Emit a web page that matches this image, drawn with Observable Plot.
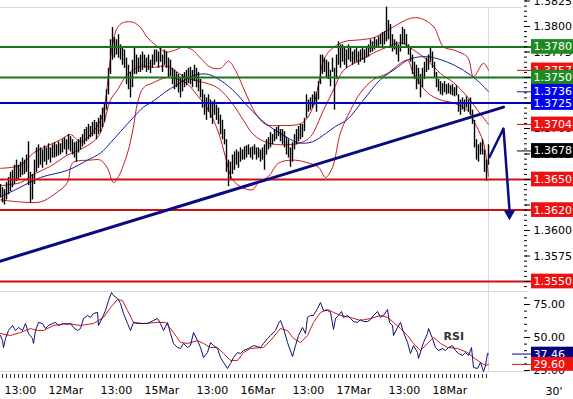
<!DOCTYPE html>
<html><head><meta charset="utf-8">
<script src="https://cdn.jsdelivr.net/npm/d3@7"></script>
<script src="https://cdn.jsdelivr.net/npm/@observablehq/plot@0.6"></script>
<style>
body{margin:0;background:#fff;}
#chart{position:relative;width:573px;height:399px;overflow:hidden;background:#fff;font-family:"DejaVu Sans",sans-serif;}
#chart svg{display:block;position:absolute;left:0;}
</style></head><body><div id="chart"></div>
<script>
// ---- 30-minute bars (bar index = half-hour slot, 11Mar 12:00 = 0) ----
const barHigh = [
1.3645,1.3642,1.3640,1.3647,1.3652,1.3657,1.3659,1.3664,1.3669,1.3664,
1.3667,1.3671,1.3669,1.3674,1.3687,1.3657,1.3655,1.3669,1.3681,1.3684,
1.3681,1.3679,1.3683,1.3681,1.3685,1.3681,1.3684,1.3686,1.3684,1.3687,
1.3685,1.3689,1.3691,1.3689,1.3694,1.3692,1.3689,1.3686,1.3687,1.3689,
1.3691,1.3694,1.3699,1.3701,1.3704,1.3702,1.3706,1.3708,1.3706,1.3710,
1.3713,1.3720,1.3725,1.3738,1.3759,1.3787,1.3799,1.3789,1.3787,1.3792,
1.3782,1.3779,1.3777,1.3769,1.3762,1.3755,1.3767,1.3779,1.3772,1.3769,
1.3772,1.3775,1.3772,1.3769,1.3772,1.3767,1.3772,1.3777,1.3777,1.3775,
1.3779,1.3772,1.3777,1.3775,1.3769,1.3767,1.3759,1.3757,1.3755,1.3753,
1.3750,1.3753,1.3755,1.3757,1.3759,1.3760,1.3757,1.3762,1.3759,1.3755,
1.3748,1.3738,1.3733,1.3730,1.3733,1.3728,1.3726,1.3728,1.3723,1.3720,
1.3713,1.3708,1.3699,1.3689,1.3669,1.3667,1.3674,1.3677,1.3679,1.3677,
1.3681,1.3679,1.3682,1.3683,1.3684,1.3681,1.3682,1.3684,1.3681,1.3681,
1.3679,1.3681,1.3684,1.3689,1.3691,1.3696,1.3694,1.3699,1.3701,1.3702,
1.3699,1.3699,1.3697,1.3691,1.3689,1.3681,1.3686,1.3694,1.3699,1.3702,
1.3704,1.3704,1.3710,1.3733,1.3728,1.3730,1.3733,1.3736,1.3735,1.3746,
1.3772,1.3772,1.3769,1.3767,1.3765,1.3757,1.3769,1.3759,1.3772,1.3785,
1.3782,1.3782,1.3779,1.3777,1.3782,1.3779,1.3775,1.3777,1.3779,1.3775,
1.3777,1.3779,1.3777,1.3780,1.3782,1.3787,1.3785,1.3789,1.3787,1.3790,
1.3792,1.3794,1.3795,1.3819,1.3806,1.3802,1.3792,1.3787,1.3785,1.3782,
1.3792,1.3799,1.3797,1.3792,1.3782,1.3779,1.3772,1.3765,1.3762,1.3759,
1.3753,1.3759,1.3765,1.3769,1.3772,1.3780,1.3775,1.3765,1.3755,1.3748,
1.3746,1.3744,1.3746,1.3743,1.3744,1.3742,1.3743,1.3740,1.3742,1.3733,
1.3728,1.3730,1.3728,1.3731,1.3728,1.3730,1.3718,1.3708,1.3689,1.3684,
1.3686,1.3689,1.3679,1.3669,1.3684];
const barLow = [
1.3632,1.3627,1.3625,1.3630,1.3635,1.3638,1.3642,1.3645,1.3648,1.3650,
1.3652,1.3654,1.3655,1.3657,1.3644,1.3627,1.3630,1.3645,1.3657,1.3661,
1.3664,1.3661,1.3667,1.3664,1.3669,1.3666,1.3671,1.3671,1.3672,1.3673,
1.3674,1.3676,1.3679,1.3674,1.3679,1.3677,1.3674,1.3671,1.3667,1.3676,
1.3679,1.3682,1.3684,1.3687,1.3689,1.3691,1.3692,1.3694,1.3689,1.3694,
1.3696,1.3701,1.3706,1.3718,1.3733,1.3753,1.3767,1.3769,1.3772,1.3769,
1.3767,1.3762,1.3759,1.3743,1.3738,1.3730,1.3740,1.3753,1.3753,1.3755,
1.3755,1.3757,1.3759,1.3755,1.3757,1.3754,1.3759,1.3762,1.3765,1.3759,
1.3765,1.3755,1.3762,1.3759,1.3750,1.3751,1.3743,1.3738,1.3740,1.3735,
1.3730,1.3736,1.3740,1.3742,1.3744,1.3743,1.3740,1.3746,1.3740,1.3736,
1.3730,1.3720,1.3713,1.3708,1.3716,1.3710,1.3704,1.3713,1.3708,1.3704,
1.3694,1.3689,1.3684,1.3657,1.3643,1.3650,1.3655,1.3659,1.3664,1.3661,
1.3667,1.3669,1.3669,1.3671,1.3674,1.3671,1.3669,1.3674,1.3669,1.3671,
1.3667,1.3669,1.3659,1.3674,1.3679,1.3681,1.3684,1.3687,1.3689,1.3692,
1.3687,1.3684,1.3681,1.3674,1.3671,1.3662,1.3667,1.3679,1.3684,1.3687,
1.3689,1.3691,1.3697,1.3710,1.3716,1.3718,1.3720,1.3723,1.3716,1.3728,
1.3743,1.3753,1.3755,1.3750,1.3748,1.3741,1.3755,1.3718,1.3748,1.3762,
1.3759,1.3765,1.3762,1.3759,1.3767,1.3765,1.3762,1.3764,1.3765,1.3762,
1.3765,1.3767,1.3764,1.3769,1.3770,1.3774,1.3775,1.3777,1.3779,1.3779,
1.3782,1.3779,1.3782,1.3785,1.3787,1.3779,1.3775,1.3777,1.3772,1.3765,
1.3775,1.3782,1.3782,1.3779,1.3772,1.3765,1.3753,1.3748,1.3738,1.3743,
1.3730,1.3740,1.3748,1.3755,1.3757,1.3765,1.3759,1.3750,1.3740,1.3736,
1.3733,1.3732,1.3735,1.3733,1.3734,1.3733,1.3732,1.3731,1.3732,1.3716,
1.3713,1.3718,1.3716,1.3720,1.3716,1.3713,1.3704,1.3681,1.3669,1.3667,
1.3674,1.3674,1.3657,1.3648,1.3664];

// ---- Bollinger bands (read points: bar index, price) ----
const bbUpX = [0,10,16.5,22.5,30,35,40,45,50,52.5,54,56,58.5,61.5,66.5,70,73.5,77.5,82.5,87.5,91.5,96,100,105,110,114,117.5,122.5,127.5,132.5,140,149,152.5,156,159,161.5,165,171.5,180,186.5,191.5,198.5,205,210,216.5,221.5,226.5,233.5,236.5,241.5,244];
const bbUpV = [1.3661,1.3664,1.3676,1.3682,1.3689,1.3694,1.3687,1.3694,1.3708,1.3728,1.3753,1.3782,1.3799,1.3804,1.3804,1.3799,1.3789,1.3782,1.3775,1.3777,1.3780,1.3777,1.3769,1.3760,1.3759,1.3766,1.3757,1.3735,1.3715,1.3704,1.3703,1.3704,1.3708,1.3720,1.3743,1.3767,1.3777,1.3785,1.3787,1.3789,1.3794,1.3802,1.3808,1.3808,1.3800,1.3780,1.3777,1.3770,1.3751,1.3764,1.3757];
const bbMidX = [0,10,16.5,25,33.5,41.5,48.5,51.5,55,58.5,63.5,70,76.5,83.5,92.5,100,108.5,116.5,121.5,126.5,133.5,142.5,150,155,161.5,166.5,171.5,180,186.5,193.5,200,206.5,213.5,220,226.5,233.5,238.5,244];
const bbMidV = [1.3644,1.3647,1.3655,1.3663,1.3674,1.3681,1.3691,1.3704,1.3728,1.3738,1.3753,1.3761,1.3760,1.3761,1.3750,1.3746,1.3740,1.3723,1.3708,1.3694,1.3686,1.3684,1.3686,1.3692,1.3718,1.3738,1.3757,1.3767,1.3774,1.3780,1.3784,1.3777,1.3767,1.3754,1.3745,1.3731,1.3718,1.3704];
const bbLowX = [0,10,20,26.5,33.5,35,36.5,45,50,53.5,56.5,59,63.5,66.5,68.5,71.5,76.5,83.5,92.5,99,104,109,112.5,116,121,126,129,134,139,146,152.5,159,162.5,166,170,175,180,186.5,193.5,200,203.5,206.5,213.5,220,226.5,233.5,236.5,241.5,244];
const bbLowV = [1.3630,1.3628,1.3628,1.3635,1.3647,1.3662,1.3667,1.3669,1.3669,1.3661,1.3647,1.3653,1.3676,1.3702,1.3725,1.3740,1.3745,1.3750,1.3745,1.3731,1.3718,1.3696,1.3672,1.3650,1.3642,1.3640,1.3647,1.3653,1.3666,1.3669,1.3667,1.3662,1.3652,1.3662,1.3696,1.3718,1.3735,1.3748,1.3754,1.3764,1.3767,1.3754,1.3735,1.3728,1.3725,1.3718,1.3708,1.3686,1.3653];
// ---- blue moving average ----
const maX = [0,7.5,20,33.5,43.5,50,55,60,66.5,71.5,76.5,82.5,87.5,93.5,98.5,104,108.5,116,124,132.5,141,149,156,162.5,167.5,173.5,181.5,190,198.5,203.5,208.5,215,223.5,231.5,238.5,244];
const maV = [1.3633,1.3640,1.3652,1.3659,1.3669,1.3676,1.3686,1.3697,1.3711,1.3721,1.3727,1.3736,1.3742,1.3749,1.3753,1.3753,1.3749,1.3738,1.3721,1.3705,1.3694,1.3686,1.3687,1.3695,1.3702,1.3709,1.3728,1.3748,1.3760,1.3767,1.3770,1.3770,1.3765,1.3757,1.3747,1.3736];

// ---- trend line and projection arrow ----
const trendX = [0, 251.5];
const trendV = [1.3570, 1.3721];
const arrowX = [244.5, 251.5, 254.5];
const arrowV = [1.3672, 1.3700, 1.3620];
const arrowHeadX = [254.5];
const arrowHeadV = [1.36165];

// ---- horizontal levels and right-hand value boxes ----
const levelVals = [1.3780, 1.3750, 1.3725, 1.3650, 1.3620, 1.3550];
const levelColors = ["#16761a","#16761a","#0000c8","#cc1111","#cc1111","#cc1111"];
const boxVals = [1.3780, 1.3757, 1.3750, 1.3736, 1.3725, 1.3704, 1.3678, 1.3650, 1.3620, 1.3550];
const boxColors = ["#1f8a22","#ee1111","#1f8a22","#0000f0","#0000f0","#ee1111","#000000","#ee1111","#ee1111","#ee1111"];
const markerVals = [1.3757, 1.3736, 1.3704, 1.3678];
const markerColors = ["#cc1111","#1a1a99","#cc1111","#000000"];
// axis labels that stay (at least partly) visible next to the boxes
const priceLabelTicks = [1.3575, 1.3600, 1.3675, 1.3700, 1.3775, 1.3800, 1.3825];

// ---- RSI panel ----
const rsiX = [0,1,1.5,2.5,4,6,7.5,9,11,12.5,
14,16,16.5,17.5,19,21,22.5,24,26,27.5,
29,31.5,33.5,35,36.5,38.5,40,41.5,43.5,45,
46.5,48.5,49,51,52.5,54,55.5,56.5,58.5,60,
61.5,63.5,65,66.5,68.5,70,73.5,76.5,78.5,80,
81.5,83.5,85,86.5,88.5,90,91.5,93.5,95,96.5,
98.5,100,101.5,103.5,105,106.5,108.5,110,111.5,113.5,
115,116.5,118.5,120,121.5,124,126.5,130,131.5,133.5,
135,137.5,139,140,141.5,143.5,146,147.5,149,151,
152.5,153.5,155,156.5,158.5,160,161.5,163.5,165,166.5,
167.5,169,170.5,171.5,173.5,175,176.5,178.5,180,181.5,
183.5,185,186.5,188.5,190,191.5,193.5,194.5,196,196.5,
198.5,200,201.5,203.5,205,206.5,208.5,209,211.5,213.5,
214,216,217.5,219,221,222.5,224,226,227.5,229,
231,232.5,234,235.5,236.5,238.5,240,241.5,242.5,243.5,
244];
const rsiV = [51.5,47.7,42.4,49.2,55.3,59.1,55.3,57.6,55.3,60.6,
53.0,49.2,45.5,55.3,61.4,60.6,56.8,59.1,60.6,61.4,
59.1,60.6,59.9,60.6,57.6,55.3,56.8,64.4,66.7,65.2,
68.2,69.0,59.1,65.2,70.5,78.0,84.1,81.8,79.6,75.8,
68.2,60.6,55.3,61.4,60.6,60.6,60.6,62.9,64.4,60.6,
55.3,61.4,53.0,45.5,42.4,41.7,45.5,42.4,43.9,53.8,
47.7,42.4,34.8,38.6,46.2,43.9,41.7,34.8,31.1,26.5,
30.3,34.8,38.6,37.9,40.1,41.7,43.9,42.4,45.5,49.2,
51.5,55.3,60.6,62.9,56.8,46.2,35.6,43.9,51.5,57.6,
53.0,65.2,66.7,66.7,72.0,76.5,70.5,70.5,69.0,56.1,
64.4,66.7,69.7,65.2,66.7,64.4,62.1,61.4,63.6,62.1,
62.1,63.6,66.7,69.7,65.2,66.7,71.2,61.4,59.1,51.5,
57.6,61.4,53.8,46.2,37.9,43.9,38.6,34.1,46.2,53.0,
56.8,49.2,42.4,40.1,41.7,40.1,42.4,43.9,40.1,37.9,
36.4,38.6,36.4,42.4,27.3,26.5,31.1,24.2,28.8,37.9,
37.46];
const rsiMaX = [0,5,10,15,18.5,21.5,26.5,33.5,40,46.5,
51.5,55,58.5,61,63.5,66.5,71.5,78.5,82.5,86.5,
90,93.5,98.5,101.5,105,108.5,111.5,115,118.5,121.5,
125,131.5,135,140,143.5,146.5,150,153.5,156.5,160,
163.5,166.5,170,175,180,185,190,193.5,196.5,200,
203.5,206.5,210,213.5,216.5,220,223.5,228.5,233.5,236.5,
240,242.5,244];
const rsiMaV = [53.0,51.5,53.8,56.8,55.3,55.3,59.1,60.6,59.1,60.6,
65.2,72.7,78.8,78.0,70.5,61.4,60.6,61.4,61.4,53.8,
46.2,45.5,47.7,45.5,42.4,42.4,37.9,32.6,32.6,38.6,
41.7,42.4,47.7,56.8,55.3,49.2,46.2,51.5,61.4,69.0,
71.2,69.0,66.7,65.2,62.9,64.4,66.7,65.2,61.4,56.8,
51.5,45.5,40.1,45.5,50.0,45.5,42.4,41.7,38.6,34.8,
31.1,28.8,29.6];
const rsiBoxVals = [37.46, 29.60];
const rsiBoxColors = ["#000080", "#ee1111"];

// ---- time axis ----
const timeTickIdx = [2, 24, 50, 72, 98, 120, 146, 168, 194, 216];
const timeTickLabels = ["13:00","12Mar","13:00","15Mar","13:00","16Mar","13:00","17Mar","13:00","18Mar"];
const periodLabel = "30'";

// ---------- build ----------
const pts = (xs, vs) => xs.map((x, k) => ({x, v: vs[k]}));
const bars = barHigh.map((h, i) => ({i, high: h, low: barLow[i]}));
const levels = levelVals.map((v, k) => ({v, c: levelColors[k]}));
const markers = markerVals.map((v, k) => ({v, c: markerColors[k]}));
const priceTicks = d3.range(13550, 13826, 25).map(v => v / 10000);
const priceMinor = d3.range(13545, 13826, 5).map(v => v / 10000);
const rsiTicks = [25, 50, 75];
const rsiMinor = d3.range(25, 85, 5);
const hourTicks = d3.range(1, 245, 2);
const labelOf = new Map(timeTickIdx.map((d, k) => [d, timeTickLabels[k]]));
const FONT = "'DejaVu Sans', sans-serif";
const style = {fontFamily: FONT, fontSize: "11px", background: "white", overflow: "visible"};

function boxMarks(vals, colors, half, fmt) {
  return vals.flatMap((v, k) => {
    const d = [{v, c: colors[k]}];
    return [
      Plot.rect(d, {x1: 265.5, x2: 287, y1: e => e.v - half, y2: e => e.v + half, fill: "c"}),
      Plot.text(d, {x: 266.5, y: "v", text: e => fmt(e.v), fill: "white", textAnchor: "start", fontSize: 11})
    ];
  });
}

const yTop = 1.38255, yBot = 1.35402;
const main = Plot.plot({
  width: 573, height: 291,
  marginLeft: 0, marginRight: 51, marginTop: 0, marginBottom: 0,
  x: {domain: [0, 261], axis: null, label: null},
  y: {domain: [yBot, yTop], axis: null, label: null},
  color: {type: "identity"},
  style,
  marks: [
    Plot.ruleY([1.38186], {x1: 0, x2: 261, stroke: "#dadada"}),
    Plot.ruleX([244], {y1: yBot, y2: 1.38186, stroke: "#d6d9e6"}),
    Plot.line(pts(bbUpX, bbUpV), {x: "x", y: "v", stroke: "#cc1a1a", strokeWidth: 1, curve: "catmull-rom"}),
    Plot.line(pts(bbMidX, bbMidV), {x: "x", y: "v", stroke: "#cc1a1a", strokeWidth: 1, curve: "catmull-rom"}),
    Plot.line(pts(bbLowX, bbLowV), {x: "x", y: "v", stroke: "#cc1a1a", strokeWidth: 1, curve: "catmull-rom"}),
    Plot.line(pts(maX, maV), {x: "x", y: "v", stroke: "#1a1aa0", strokeWidth: 1, curve: "catmull-rom"}),
    Plot.ruleX(bars, {x: "i", y1: "low", y2: "high", stroke: "#000", strokeWidth: 1.4}),
    Plot.ruleY(levels, {y: "v", x1: 0, x2: 265.5, stroke: "c", strokeWidth: 2}),
    Plot.line(pts(trendX, trendV), {x: "x", y: "v", stroke: "#0a0a80", strokeWidth: 3}),
    Plot.line(pts(arrowX, arrowV), {x: "x", y: "v", stroke: "#0a0a80", strokeWidth: 2.5}),
    Plot.dot(pts(arrowHeadX, arrowHeadV), {x: "x", y: "v", symbol: "triangle2", rotate: 180, r: 5.5, fill: "#0a0a80", stroke: "none"}),
    Plot.ruleY(priceMinor, {x1: 262, x2: 263.5, stroke: "#000"}),
    Plot.ruleY(priceTicks, {x1: 262.5, x2: 265, stroke: "#000"}),
    Plot.axisY({ticks: priceLabelTicks, anchor: "right", label: null, tickSize: 0, tickPadding: 11, tickFormat: d3.format(".4f"), fontSize: 11, fill: "#000"}),
    Plot.ruleY(markers, {y: "v", x1: 258.5, x2: 265.5, stroke: "c", strokeWidth: 1}),
    ...boxMarks(boxVals, boxColors, 0.00072, v => v.toFixed(4))
  ]
});
main.style.top = "0px";

const rTop = 84.85, rBot = 24.24;
const rsi = Plot.plot({
  width: 573, height: 108,
  marginLeft: 0, marginRight: 51, marginTop: 0, marginBottom: 28,
  x: {domain: [0, 261], axis: null, label: null},
  y: {domain: [rBot, rTop], axis: null, label: null},
  color: {type: "identity"},
  style,
  marks: [
    Plot.ruleY([rTop, rBot], {x1: 0, x2: 264, stroke: "#dadada"}),
    Plot.ruleX([244], {y1: rBot, y2: rTop, stroke: "#d6d9e6"}),
    Plot.line(pts(rsiMaX, rsiMaV), {x: "x", y: "v", stroke: "#cc1a1a", strokeWidth: 1}),
    Plot.line(pts(rsiX, rsiV), {x: "x", y: "v", stroke: "#10106e", strokeWidth: 1}),
    Plot.text(["RSI"], {x: 221.5, y: 50.8, text: d => d, textAnchor: "start", fontWeight: "bold", fontSize: 11, fill: "#333"}),
    Plot.ruleY(rsiMinor, {x1: 262, x2: 263.5, stroke: "#000"}),
    Plot.ruleY(rsiTicks, {x1: 262.5, x2: 265, stroke: "#000"}),
    Plot.axisY({ticks: rsiTicks, anchor: "right", label: null, tickSize: 0, tickPadding: 11, tickFormat: d3.format(".2f"), fontSize: 11, fill: "#000"}),
    Plot.ruleY(rsiBoxVals.map((v, k) => ({v, c: rsiBoxColors[k]})), {y: "v", x1: 256, x2: 265.5, stroke: "c"}),
    ...boxMarks(rsiBoxVals, rsiBoxColors, 5.2, v => v.toFixed(2)),
    Plot.ruleX(hourTicks, {y1: 21.97, y2: 18.94, stroke: "#333"}),
    Plot.axisX({ticks: timeTickIdx, anchor: "bottom", label: null, tickSize: 0, tickPadding: 15, tickFormat: d => labelOf.get(d), textAnchor: "start", fontSize: 11, fill: "#000"}),
    Plot.text([periodLabel], {x: 272.5, y: 9.3, text: d => d, textAnchor: "start", fontSize: 11, fill: "#000"})
  ]
});
rsi.style.top = "291px";

const root = document.getElementById("chart");
root.appendChild(main);
root.appendChild(rsi);
</script>
</body></html>
